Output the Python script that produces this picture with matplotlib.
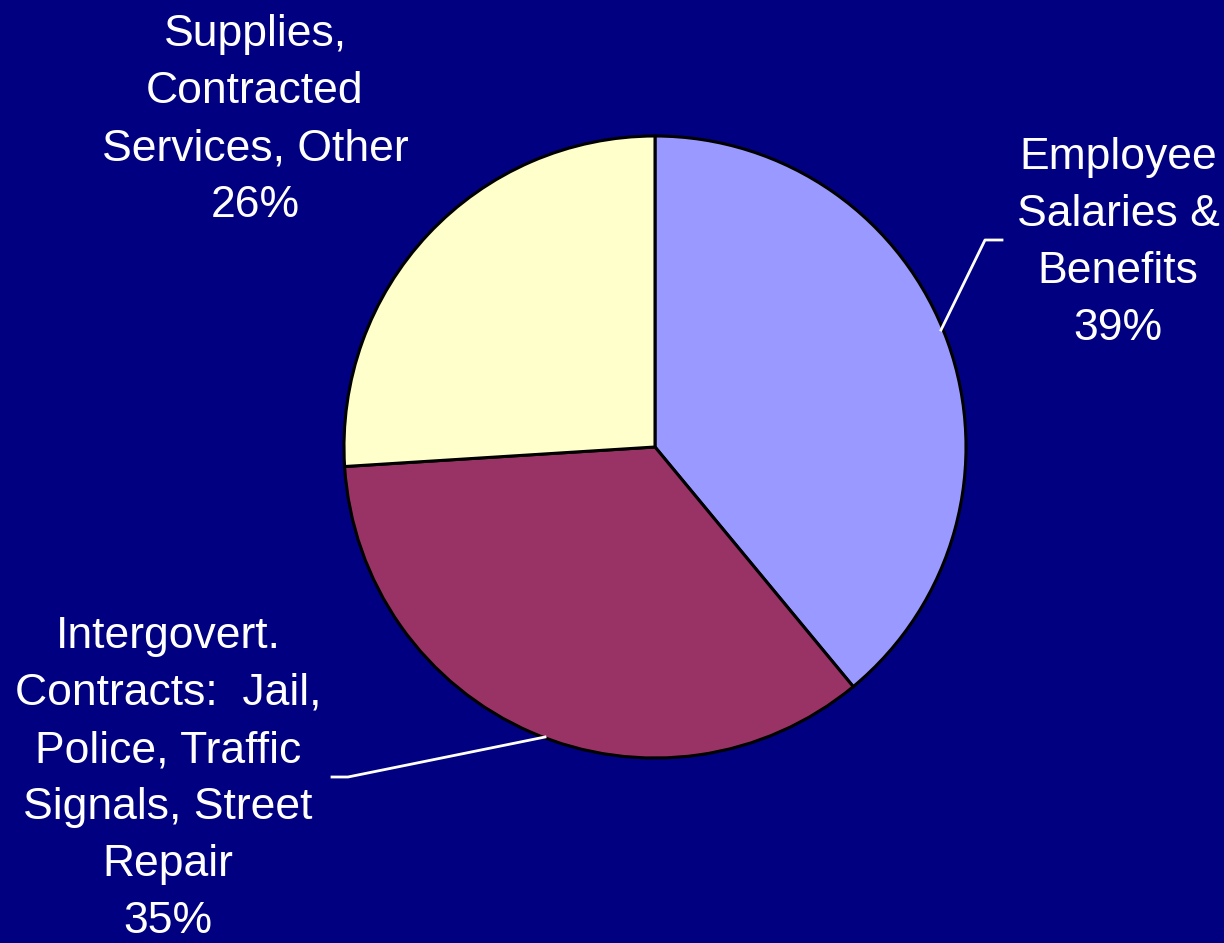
import matplotlib
matplotlib.use("Agg")
import matplotlib.pyplot as plt

# Budget shares by expense category
categories = [
    "Employee\nSalaries &\nBenefits",
    "Intergovert.\nContracts:  Jail,\nPolice, Traffic\nSignals, Street\nRepair",
    "Supplies,\nContracted\nServices, Other",
]
shares = [39, 35, 26]
colors = ["#9999FF", "#993366", "#FFFFCC"]

W, H = 1224, 943
fig = plt.figure(figsize=(W / 100, H / 100), dpi=100)
fig.patch.set_facecolor("#000080")
ax = fig.add_axes([0, 0, 1, 1])
ax.set_facecolor("#000080")

# y axis runs downward, so start at -90 and go counterclockwise in data
# coordinates to sweep clockwise from the top on screen
cx, cy, r = 655, 447, 311
ax.pie(shares, colors=colors, startangle=-90, counterclock=True,
       center=(cx, cy), radius=r, frame=True,
       wedgeprops=dict(edgecolor="black", linewidth=2.2))
ax.set_xlim(0, W)
ax.set_ylim(H, 0)
ax.set_aspect("equal")
ax.axis("off")

font = dict(family=["Liberation Sans", "DejaVu Sans"], color="white",
            fontsize=32, ha="center", va="center", linespacing=1.5)

labels = [f"{c}\n{s}%" for c, s in zip(categories, shares)]
ax.text(1118, 243, labels[0], **font)
ax.text(168, 779, labels[1], **font)
ax.text(255, 120, labels[2], **font)

# Leader lines
ax.plot([941, 985, 1002], [330, 240, 240], color="white", lw=2)
ax.plot([545, 348, 332], [737, 777, 777], color="white", lw=2)

fig.savefig("out.png", dpi=100, facecolor=fig.get_facecolor())
